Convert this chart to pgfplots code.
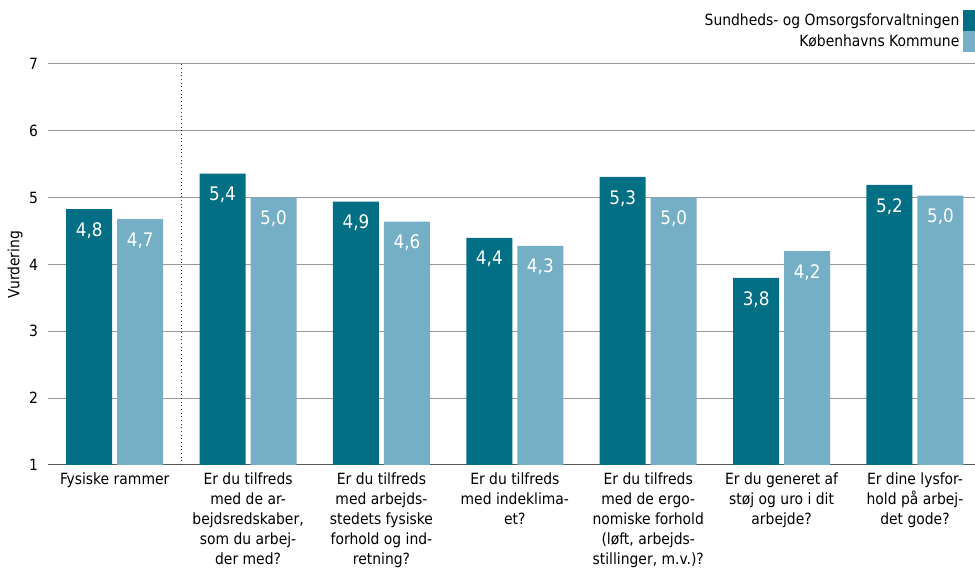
\documentclass[border=0pt]{standalone}
\usepackage{pgfplots}
\pgfplotsset{compat=1.18}
\usepackage{fontspec}
\setmainfont{DejaVu Sans Condensed}
\definecolor{sof}{HTML}{036F84}
\definecolor{kk}{HTML}{74AFC5}
\begin{document}
\begin{tikzpicture}
\begin{axis}[
    scale only axis,
    width=695.25pt, height=300.75pt,
    ybar=3.75pt, bar width=34.5pt,
    xmin=-0.5, xmax=6.45, ymin=1, ymax=7,
    /pgf/number format/assume math mode=true,
    xtick={0,...,6},
    xticklabels={
        {Fysiske rammer},
        {Er du tilfreds\\med de ar-\\bejdsredskaber,\\som du arbej-\\der med?},
        {Er du tilfreds\\med arbejds-\\stedets fysiske\\forhold og ind-\\retning?},
        {Er du tilfreds\\med indeklima-\\et?},
        {Er du tilfreds\\med de ergo-\\nomiske forhold\\(løft, arbejds-\\stillinger, m.v.)?},
        {Er du generet af\\støj og uro i dit\\arbejde?},
        {Er dine lysfor-\\hold på arbej-\\det gode?}},
    xticklabel style={align=center, font=\fontsize{11.6}{15}\selectfont, anchor=north, yshift=-2.5pt},
    ytick={1,...,7},
    yticklabel style={font=\fontsize{11.6}{14}\selectfont, xshift=-4pt},
    major tick length=0pt,
    ymajorgrids,
    grid style={color=black!40, line width=0.75pt},
    axis x line*=bottom, axis y line*=left,
    y axis line style={draw=none},
    x axis line style={-, color=black!65, line width=0.75pt},
    ylabel={Vurdering},
    every axis y label/.style={at={(axis description cs:-0.0356,0.5)}, rotate=90, anchor=center, font=\fontsize{11.6}{14}\selectfont},
    nodes near coords={\pgfmathprintnumber[fixed,fixed zerofill,precision=1,use comma]{\pgfplotspointmeta}},
    every node near coord/.append style={anchor=center, yshift=-16pt, text=white, font=\fontsize{14}{16}\selectfont},
    legend style={at={(axis description cs:1,1)}, anchor=south east, yshift=9pt,
        draw=none, fill=none, inner sep=0pt, row sep=0pt,
        font=\fontsize{11.6}{14}\selectfont,
        nodes={inner xsep=2.5pt, inner ysep=0pt}},
    legend cell align=right,
    legend plot pos=right,
    legend image code/.code={\path[#1,draw=none] (0pt,-7.9pt) rectangle (9pt,7.9pt);},
]
% Sundheds- og Omsorgsforvaltningen
\addplot[fill=sof, draw=none] coordinates {
    (0,4.83) (1,5.36) (2,4.94) (3,4.40) (4,5.31) (5,3.80) (6,5.19)
};
% Københavns Kommune
\addplot[fill=kk, draw=none] coordinates {
    (0,4.68) (1,5.00) (2,4.64) (3,4.28) (4,5.00) (5,4.20) (6,5.03)
};
\legend{Sundheds- og Omsorgsforvaltningen, Københavns Kommune}
\draw[dotted, black!80, line width=0.75pt] (axis cs:0.5,1) -- (axis cs:0.5,7);
\end{axis}
\pgfresetboundingbox
\path[use as bounding box] ([xshift=-36pt,yshift=-79.5pt]current axis.south west) rectangle ([yshift=48pt]current axis.north east);
\end{tikzpicture}
\end{document}
